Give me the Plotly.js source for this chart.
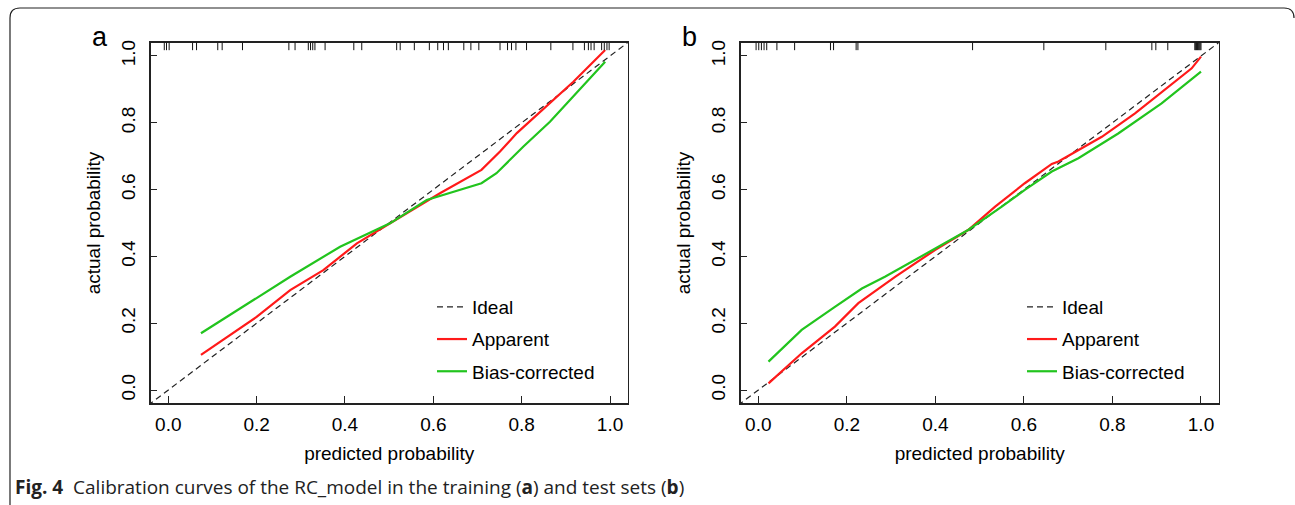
<!DOCTYPE html>
<html>
<head>
<meta charset="utf-8">
<script src="https://cdn.plot.ly/plotly-3.0.1.min.js"></script>
<style>
  html, body { margin: 0; padding: 0; background: #ffffff; }
  #chart { width: 1295px; height: 505px; }
</style>
</head>
<body>
<div id="chart"></div>
<script>
// ---------- data ----------
const tickVals = [0.0, 0.2, 0.4, 0.6, 0.8, 1.0];
const tickText = ['0.0', '0.2', '0.4', '0.6', '0.8', '1.0'];
const idealX = [-0.1, 1.1];
const idealY = [-0.1, 1.1];

// Panel a (training set)
const trainApparentX = [0.074, 0.200, 0.276, 0.351, 0.427, 0.540, 0.615, 0.709, 0.751, 0.789, 0.872, 0.917, 0.989];
const trainApparentY = [0.105, 0.219, 0.299, 0.359, 0.439, 0.529, 0.589, 0.659, 0.714, 0.769, 0.868, 0.923, 1.018];
const trainBiasX = [0.074, 0.162, 0.200, 0.276, 0.389, 0.502, 0.585, 0.660, 0.709, 0.743, 0.804, 0.864, 0.917, 0.989];
const trainBiasY = [0.170, 0.244, 0.275, 0.339, 0.429, 0.499, 0.569, 0.599, 0.619, 0.649, 0.729, 0.803, 0.878, 0.983];
const trainRug = [-0.009, -0.004, 0.002, 0.055, 0.064, 0.112, 0.122, 0.168, 0.273, 0.287,
                  0.317, 0.322, 0.327, 0.332, 0.355, 0.420, 0.438, 0.517, 0.525, 0.557,
                  0.591, 0.610, 0.623, 0.634, 0.669, 0.685, 0.703, 0.751, 0.768, 0.777,
                  0.787, 0.811, 0.866, 0.916, 0.942, 0.951, 0.957, 0.964, 0.981, 0.987,
                  0.993, 0.998];

// Panel b (test set)
const testApparentX = [0.023, 0.098, 0.173, 0.226, 0.309, 0.399, 0.474, 0.535, 0.602, 0.663, 0.678, 0.723, 0.776, 0.851, 0.926, 0.979, 1.000];
const testApparentY = [0.020, 0.110, 0.190, 0.260, 0.339, 0.419, 0.479, 0.549, 0.619, 0.677, 0.684, 0.719, 0.758, 0.828, 0.908, 0.963, 0.998];
const testBiasX = [0.023, 0.098, 0.173, 0.234, 0.286, 0.361, 0.414, 0.474, 0.550, 0.602, 0.663, 0.723, 0.813, 0.911, 1.000];
const testBiasY = [0.085, 0.180, 0.249, 0.304, 0.339, 0.394, 0.434, 0.479, 0.549, 0.599, 0.654, 0.694, 0.768, 0.858, 0.953];
const testRug = [-0.005, 0.001, 0.007, 0.013, 0.019, 0.042, 0.082, 0.163, 0.170, 0.221,
                 0.225, 0.484, 0.645, 0.785, 0.889, 0.898, 0.925, 0.986, 0.988, 0.990,
                 0.992, 0.994, 0.996, 0.998, 1.000];

const seriesNames = ['Ideal', 'Apparent', 'Bias-corrected'];
const panelLabels = ['a', 'b'];
const xTitle = 'predicted probability';
const yTitle = 'actual probability';
const captionText = '<b>Fig. 4</b>  Calibration curves of the RC_model in the training (<b>a</b>) and test sets (<b>b</b>)';

// ---------- styles ----------
const W = 1295, H = 505;
const FONT = 'Liberation Sans, Arial, sans-serif';
const FS = 19;
const RED = '#ff1a1a';
const GREEN = '#22c41e';

function makeTraces(xa, ya, leg, ax, ay, bx, by) {
  return [
    { x: idealX, y: idealY, xaxis: xa, yaxis: ya, mode: 'lines', name: seriesNames[0],
      line: { color: '#222222', width: 1.2, dash: '6px,4px' }, legend: leg, legendgroup: leg + 'i', hoverinfo: 'skip' },
    { x: ax, y: ay, xaxis: xa, yaxis: ya, mode: 'lines', name: seriesNames[1],
      line: { color: RED, width: 2.2 }, legend: leg, legendgroup: leg + 'a' },
    { x: bx, y: by, xaxis: xa, yaxis: ya, mode: 'lines', name: seriesNames[2],
      line: { color: GREEN, width: 2.2 }, legend: leg, legendgroup: leg + 'b' }
  ];
}

const data = [].concat(
  makeTraces('x', 'y', 'legend', trainApparentX, trainApparentY, trainBiasX, trainBiasY),
  makeTraces('x2', 'y2', 'legend2', testApparentX, testApparentY, testBiasX, testBiasY)
);

function xAxis(domain, anchor) {
  return {
    domain: domain, anchor: anchor, range: [-0.04, 1.04],
    tickvals: tickVals, ticktext: tickText, ticks: 'inside', ticklen: 7, tickwidth: 1, tickcolor: '#222',
    showline: true, mirror: true, linecolor: '#222', linewidth: 1.3,
    showgrid: false, zeroline: false, ticklabelstandoff: 3,
    tickfont: { family: FONT, size: FS, color: '#000' },
    title: { text: xTitle, font: { family: FONT, size: FS, color: '#000' }, standoff: 13 }
  };
}
function yAxis(domain, anchor) {
  return {
    domain: domain, anchor: anchor, range: [-0.04, 1.04],
    tickvals: tickVals, ticktext: tickText, ticks: 'inside', ticklen: 6, tickwidth: 1, tickcolor: '#222',
    showline: true, mirror: true, linecolor: '#222', linewidth: 1.3,
    showgrid: false, zeroline: false, tickangle: -90, ticklabelstandoff: 7,
    tickfont: { family: FONT, size: FS, color: '#000' },
    title: { text: yTitle, font: { family: FONT, size: FS, color: '#000' }, standoff: 12 }
  };
}

const xDomA = [150.6 / W, 627.7 / W];
const xDomB = [740.6 / W, 1218.7 / W];
const yDom = [1 - 403.4 / H, 1 - 42.6 / H];

// rug marks along the top of each panel
const shapes = [];
trainRug.forEach(v => shapes.push({ type: 'line', xref: 'x', yref: 'y domain', x0: v, x1: v, y0: 1, y1: 0.979,
  line: { color: '#111', width: 1 } }));
testRug.forEach(v => shapes.push({ type: 'line', xref: 'x2', yref: 'y2 domain', x0: v, x1: v, y0: 1, y1: 0.979,
  line: { color: '#111', width: 1 } }));

// outer rounded frame (open on the right/bottom as in the reference)
function px(x) { return (x / W).toFixed(5); }
function py(y) { return (1 - y / H).toFixed(5); }
shapes.push({
  type: 'path', xref: 'paper', yref: 'paper',
  path: 'M' + px(10) + ',' + py(505) + ' L' + px(10) + ',' + py(18) +
        ' Q' + px(10) + ',' + py(8) + ' ' + px(20) + ',' + py(8) +
        ' L' + px(1284) + ',' + py(8) +
        ' Q' + px(1294) + ',' + py(8) + ' ' + px(1294) + ',' + py(18),
  line: { color: '#222', width: 1.2 }
});

const annotations = [
  { text: panelLabels[0], xref: 'paper', yref: 'paper', x: 100 / W, y: 1 - 37 / H, showarrow: false,
    xanchor: 'center', yanchor: 'middle', font: { family: FONT, size: 27, color: '#000' } },
  { text: panelLabels[1], xref: 'paper', yref: 'paper', x: 689 / W, y: 1 - 37 / H, showarrow: false,
    xanchor: 'center', yanchor: 'middle', font: { family: FONT, size: 27, color: '#000' } },
  { text: captionText, xref: 'paper', yref: 'paper', x: 13 / W, y: 1 - 487 / H, showarrow: false,
    xanchor: 'left', yanchor: 'middle', align: 'left', font: { family: 'Open Sans, sans-serif', size: 19, color: '#222' } }
];

function legendAt(xpx) {
  return {
    x: xpx / W, y: 1 - 288 / H, xanchor: 'left', yanchor: 'top',
    bgcolor: 'rgba(0,0,0,0)', borderwidth: 0, tracegroupgap: 4.5,
    font: { family: FONT, size: FS, color: '#000' }
  };
}

const layout = {
  width: W, height: H, margin: { l: 0, r: 0, t: 0, b: 0 },
  paper_bgcolor: '#ffffff', plot_bgcolor: '#ffffff', showlegend: true,
  xaxis: xAxis(xDomA, 'y'), yaxis: yAxis(yDom, 'x'),
  xaxis2: xAxis(xDomB, 'y2'), yaxis2: yAxis(yDom, 'x2'),
  legend: legendAt(432), legend2: legendAt(1022),
  shapes: shapes, annotations: annotations
};

Plotly.newPlot('chart', data, layout, { displayModeBar: false, staticPlot: true });
</script>
</body>
</html>
